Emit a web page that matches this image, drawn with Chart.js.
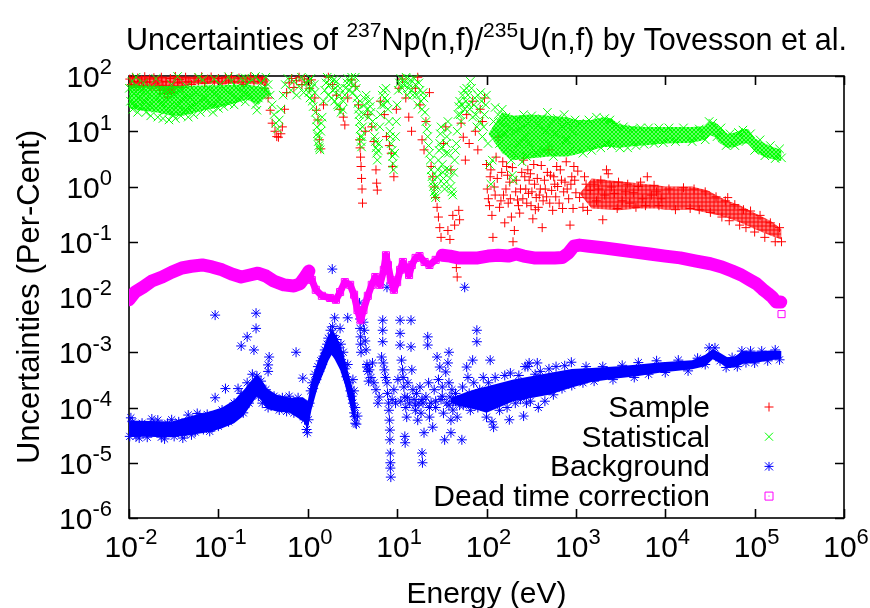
<!DOCTYPE html>
<html>
<head>
<meta charset="utf-8">
<script src="https://cdn.jsdelivr.net/npm/chart.js@4.4.1/dist/chart.umd.min.js"></script>
<style>
  html, body { margin: 0; padding: 0; background: #fff; }
  #wrap { width: 870px; height: 608px; position: relative; }
</style>
</head>
<body>
<div id="wrap"><canvas id="uncChart"></canvas></div>
<script>
// axis decades (exponents of 10) and legend labels
var xTickExps = [-2, -1, 0, 1, 2, 3, 4, 5, 6];
var yTickExps = [-6, -5, -4, -3, -2, -1, 0, 1, 2];
var legendLabels = ["Sample", "Statistical", "Background", "Dead time correction"];

// Sample uncertainty, [energy eV, per-cent] - scattered points
var sampleCloud = [
  [0.0102,88],[0.0106,70],[0.011,95],[0.0115,80],[0.012,62],[0.0125,92],[0.013,75],[0.0138,85],[0.0145,66],[0.015,97],
  [0.016,78],[0.017,88],[0.018,60],[0.019,93],[0.02,72],[0.021,84],[0.022,55],[0.023,95],[0.024,68],[0.025,48],
  [0.026,80],[0.027,42],[0.028,58],[0.029,90],[0.03,50],[0.031,65],[0.033,98],[0.035,75],[0.037,86],[0.04,62],
  [0.043,95],[0.046,78],[0.05,70],[0.055,92],[0.06,82],[0.065,97],[0.07,74],[0.076,88],[0.083,96],[0.09,80],
  [0.1,90],[0.11,72],[0.12,95],[0.13,84],[0.14,98],[0.15,78],[0.17,92],[0.19,70],[0.21,88],[0.23,97],
  [0.25,80],[0.28,93],[0.31,85],[0.33,60],[0.36,40],[0.38,24],[0.4,14],[0.43,10],[0.45,8],[0.47,7.8],
  [0.5,9],[0.52,12],[0.55,25],[0.58,50],[0.62,75],[0.66,90],[0.7,62],[0.75,82],[0.8,95],[0.86,70],[0.92,88],[0.98,78],
  [1.05,60],[1.1,85],[1.2,40],[1.25,24],[1.3,16],[1.35,7],[1.4,4.8],[1.5,30],[1.7,95],[1.9,70],
  [2.1,45],[2.3,25],[2.5,18],[2.6,13],[2.8,40],[3.1,85],[3.4,65],[3.7,30],[3.8,7],[3.85,5],
  [3.9,3.4],[3.95,2.3],[4.0,1.4],[4.05,0.9],[4.1,0.5],[4.4,10],[4.7,20],[5.2,12],[5.5,6.5],[5.8,2],
  [5.9,1.15],[6.0,0.86],[6.5,35],[7.2,20],[7.6,8],[8.2,5.5],[8.6,4],[8.9,2.3],[9.2,1.5],[9.8,25],
  [10.5,60],[11.5,88],[12.5,40],[13.5,18],[14.5,10],[16,60],[17,95],[18,30],[19,7],[20,4.6],
  [21,15],[23,50],[24,2.3],[25,1.5],[26,0.98],[27,0.63],[28,0.42],[29,0.28],[30,0.18],[31,0.12],
  [33,6],[35,12],[37,0.16],[39,0.11],[40,2],[42,0.3],[44,0.2],[46,0.034],[47,0.023],[49,0.37],
  [50,0.25],[52,14],[55,7.8],[58,3],[60,20],[64,6],[70,35],[75,10],[80,4.6],[85,25],[90,15],[95,40],
  [100,2.5],[105,0.6],[110,1.5],[115,0.3],[118,0.12],[122,0.98],[128,3.4],[135,7.8],[140,0.42],[148,1.8],
  [155,0.7],[160,0.22],[168,2.3],[175,0.5],[182,1.2],[190,0.28],[198,0.1],[205,0.16],[212,0.8],[222,0.57],
  [235,0.33],[248,1.8],[260,3],[275,0.9],[290,2],[300,1.3],[315,0.45],[330,0.26],[345,1.1],[360,0.63],
  [380,0.42],[400,0.9],[420,0.18],[445,1.3],[470,0.65],[500,4.6],[520,1.6],[550,0.37],[580,1.1],[610,2.3],
  [650,0.5],[690,1.3],[730,0.8],[780,2.8],[830,0.6],[860,0.2],[900,1.5],[950,2.3],[1000,0.77],[1050,1.9],
  [102,0.9],[108,0.45],[112,2],[125,0.7],[132,1.4],[145,0.55],[152,2.8],[165,0.9],[172,1.6],[185,0.6],
  [195,2.2],[215,1.3],[228,0.45],[240,0.9],[255,0.6],[268,1.5],[282,0.5],[295,0.75],[310,1.7],[322,0.8],
  [338,2.5],[352,0.38],[370,1.4],[390,0.7],[410,2.4],[430,0.55],[455,0.9],[480,1.8],[510,0.5],[535,0.85],
  [565,1.5],[595,0.65],[625,1],[670,2],[710,0.4],[755,1.2],[800,0.9],[880,1.1],[930,0.4],[970,1.3],
  [1100,0.63],[1200,0.42],[1300,1.1],[1350,0.37],[1450,0.85],[1600,1.1],[1700,0.55],[1800,0.9],[2000,0.25],[2100,0.7],
  [2200,2.0],[2300,1.7],[2500,0.98],[2700,0.75],[3000,1.2],[3300,0.55],[3600,0.8],[4000,0.5],[4400,0.77],[5000,1.0],
  [5600,0.6],[6300,1.5],[7000,0.7],[8000,0.8],[9000,0.6],[1250,1.5],[1900,1.3],[2900,0.4],[3800,1.1],[4700,0.42],
  [5300,1.2],[6000,0.45],[7500,1.05],[8500,0.45],
  [11000,0.9],[13000,0.38],[16000,0.95],[19000,0.4],[21000,0.9],[24000,0.38],[28000,0.8],[32000,0.34],[37000,0.65],[43000,0.28],
  [47000,0.55],[50000,0.63],[52000,0.24],[60000,0.47],[68000,0.2],[75000,0.38],[80000,0.18],[90000,0.36],[100000,0.15],[115000,0.3],
  [130000,0.12],[150000,0.22],[170000,0.1],[190000,0.18],[200000,0.1]
];
// envelopes of the densest sample runs (upper, lower)
var sampleTopHi = [[0.01,98],[0.02,98],[0.05,98],[0.1,98],[0.2,98],[0.34,98],[0.37,85]];
var sampleTopLo = [[0.01,60],[0.02,62],[0.025,50],[0.03,45],[0.035,60],[0.05,70],[0.1,72],[0.2,72],[0.3,70],[0.34,65],[0.37,85]];
var sampleHighHi = [[1100,0.75],[1500,1.4],[3000,1.25],[5000,1.15],[8000,1.05],[10000,1.0],[20000,1.0],[30000,0.85],[40000,0.65],[50000,0.55],[70000,0.45],[100000,0.33],[150000,0.24],[200000,0.17]];
var sampleHighLo = [[1100,0.75],[1500,0.4],[3000,0.37],[5000,0.4],[8000,0.4],[10000,0.38],[20000,0.38],[30000,0.33],[40000,0.3],[50000,0.27],[70000,0.22],[100000,0.17],[150000,0.13],[200000,0.11]];

// Statistical uncertainty
var statCloud = [
  [0.0101,60],[0.0104,35],[0.0108,80],[0.011,25],[0.0113,48],[0.0117,30],[0.012,68],[0.0125,22],[0.013,40],[0.0135,55],
  [0.014,28],[0.0145,75],[0.015,35],[0.0155,22],[0.016,50],[0.017,30],[0.0175,19],[0.018,62],[0.019,40],[0.02,26],
  [0.021,18],[0.022,45],[0.023,32],[0.024,17],[0.025,55],[0.026,24],[0.027,38],[0.028,16],[0.029,28],[0.03,70],
  [0.031,20],[0.032,45],[0.033,17],[0.035,30],[0.037,55],[0.038,19],[0.04,38],[0.042,24],[0.044,65],[0.046,18],
  [0.048,42],[0.05,28],[0.053,20],[0.056,50],[0.06,33],[0.063,22],[0.067,85],[0.07,40],[0.074,25],[0.078,60],
  [0.082,30],[0.087,22],[0.092,48],[0.097,35],[0.1,26],[0.105,70],[0.11,40],[0.115,28],[0.12,55],[0.13,32],
  [0.14,80],[0.145,45],[0.15,30],[0.16,62],[0.17,38],[0.18,90],[0.19,50],[0.2,34],[0.21,72],[0.22,45],
  [0.24,85],[0.25,55],[0.26,30],[0.27,24],[0.28,40],[0.3,75],[0.32,60],[0.34,95],[0.36,70],[0.38,45],
  [0.4,30],[0.42,20],[0.44,14],[0.46,11],[0.48,16],[0.5,25],[0.53,45],[0.56,70],[0.6,90],[0.65,55],
  [0.7,80],[0.75,45],[0.8,65],[0.85,95],[0.9,50],[0.95,75],[1.0,60],
  [0.012,95],[0.02,90],[0.035,98],[0.06,95],[0.09,88],[0.13,97],[0.2,92],[0.26,98],
  [1.03,50],[1.08,90],[1.12,35],[1.18,70],[1.22,22],[1.27,12],[1.3,8],[1.33,5.5],[1.37,4.6],[1.4,10],
  [1.45,18],[1.55,55],[1.65,95],[1.75,70],[1.85,40],[1.95,85],[2.05,60],[2.15,30],[2.25,45],[2.35,22],
  [2.5,35],[2.65,60],[2.8,90],[3.0,75],[3.2,50],[3.4,95],[3.55,40],[3.7,25],[3.8,15],[3.9,8],
  [4.0,5.2],[4.1,12],[4.3,30],[4.5,45],[4.8,18],[5.0,28],[5.3,15],[5.6,8],[5.8,5],[6.0,3],
  [6.2,6],[6.5,20],[6.8,45],[7.1,30],[7.5,60],[7.9,25],[8.3,10],[8.6,6],[8.9,3.5],[9.1,2],
  [9.4,4],[9.8,15],[10.3,55],[11,90],[11.8,70],[12.6,95],[13.4,60],[14.2,85],[15,45],[16,70],
  [17,30],[18,55],[19,25],[20,40],[21,15],[22,8],[23,4],[24,2],[25,1.2],[26,0.8],
  [27,0.63],[28,1.5],[29,3],[30,6],[31,12],[32,2.5],[33,1.4],[34,0.9],[35,4],[36,8],
  [37,15],[38,2],[40,1],[42,0.7],[44,3],[46,6],[48,20],[50,35],[52,15],[54,45],
  [57,25],[60,60],[63,30],[66,80],[70,18],[74,40],[78,12],[82,25],[86,50],[90,8],[95,20],
  [1.02,80],[1.06,40],[1.1,60],[1.15,28],[1.2,50],[1.25,16],[1.28,9],[1.31,6.5],[1.35,5],[1.42,14],
  [1.5,35],[1.6,75],[1.7,45],[1.8,90],[1.9,55],[2.0,35],[2.1,80],[2.2,28],[2.3,60],[2.45,25],
  [2.6,45],[2.75,75],[2.9,55],[3.1,95],[3.3,70],[3.5,60],[3.65,32],[3.75,20],[3.85,11],[3.95,6.5],
  [4.05,8],[4.2,20],[4.4,38],[4.6,25],[4.9,35],[5.1,22],[5.4,12],[5.7,6.5],[5.9,4],[6.1,4.5],
  [6.4,12],[6.7,30],[7.0,55],[7.3,40],[7.7,35],[8.1,15],[8.4,8],[8.8,4.5],[9.0,2.6],[9.6,8],
  [10,30],[10.6,75],[11.4,60],[12.2,80],[13,45],[13.8,70],[14.6,55],[15.5,90],[16.5,45],[17.5,75],
  [18.5,35],[19.5,50],[20.5,22],[21.5,11],[22.5,5.5],[23.5,3],[24.5,1.5],[25.5,1],[26.5,0.7],[27.5,1],
  [28.5,2],[29.5,4.5],[30.5,9],[31.5,5],[32.5,1.8],[33.5,1.1],[34.5,2],[35.5,6],[36.5,11],[37.5,4],
  [39,1.4],[41,0.8],[43,1.8],[45,4.5],[47,10],[49,28],[51,20],[53,30],[56,55],[59,35],
  [62,45],[65,25],[68,60],[72,30],[76,20],[80,45],[84,15],[88,35],[93,12],[98,30],
  [100,45],[104,6],[108,2.5],[112,1.1],[116,3],[120,15],[125,27],[130,10],[135,20],[140,6],
  [145,14],[150,25],[158,9],[165,18],[172,5],[180,12],[188,3],[195,1.6],[200,1.3],[205,4],
  [210,10],[220,16],[230,6],[240,11],[250,2.8],[260,20],[270,8],[280,3.5],[290,14],[300,6],
  [320,19],[340,9],[360,4],[380,13],[400,7],[420,17],[440,4.5],[460,10],[480,22],[500,6],
  [530,14],[560,3.5],[590,9],[620,17],[660,5],[700,12],[740,20],[780,7],[820,14],[870,4.5],[920,10],[980,16],
  [1100,14],[1200,4],[1400,16],[1500,4.5],[1700,18],[1900,5],[2100,17],[2200,6],[2400,16],[2500,5.5],
  [2800,13],[3100,5],[3400,12],[3800,5],[4300,11],[4700,5.5],[5300,11.5],[5800,5.8],[6500,11.5],[7500,6],
  [8500,11.5],[9500,6.2],[11000,11.5],[13000,6.5],[16000,11.5],[20000,6.5],[24000,11],[28000,7],[31000,15],[34000,14],
  [38000,8],[42000,11.5],[48000,5.5],[53000,9],[60000,5.5],[66000,9.5],[74000,10.5],[80000,6.5],[90000,9],[100000,4.5],
  [115000,7],[130000,3.6],[150000,5.5],[170000,3.2],[190000,4.8],[200000,3.3]
];
var statLowHi = [[0.01,68],[0.03,66],[0.1,68],[0.2,70],[0.36,62],[0.39,48]];
var statLowLo = [[0.01,26],[0.013,24],[0.02,22],[0.03,19],[0.04,19],[0.05,21],[0.07,24],[0.1,27],[0.13,30],[0.17,34],[0.21,37],[0.25,33],[0.28,30],[0.32,38],[0.36,44],[0.39,48]];
var statHighHi = [[105,9],[150,22],[200,19],[300,20],[500,19],[800,18],[1000,16],[1500,16],[2000,18],[2500,17],[3000,13.5],[4000,12.5],[6000,12],[10000,12],[20000,12],[28000,12.5],[32000,15],[36000,14.5],[40000,12],[50000,9],[60000,9.5],[75000,11],[85000,11],[100000,7.5],[130000,6],[160000,5.2],[200000,4.6]];
var statHighLo = [[105,9],[150,4],[200,3],[300,3.2],[500,3.5],[800,3.5],[1000,3.8],[1500,4.5],[2000,5.2],[2500,5.2],[3000,5],[4000,5.3],[6000,5.6],[10000,6],[20000,6.2],[28000,7],[32000,8.5],[36000,7.8],[40000,6.2],[50000,5],[60000,5.2],[75000,6],[85000,6],[100000,4.3],[130000,3.4],[160000,3.1],[200000,2.9]];

// Background uncertainty
var bgCloud = [
  [0.0102,3e-5],[0.011,5.5e-5],[0.012,3e-5],[0.014,5.2e-5],[0.016,2.9e-5],[0.019,5e-5],[0.021,5.9e-5],[0.023,2.9e-5],[0.027,5.2e-5],[0.032,3e-5],
  [0.036,5.5e-5],[0.042,3.3e-5],[0.046,7.3e-5],[0.055,3.6e-5],[0.062,7e-5],[0.068,4e-5],[0.075,7.5e-5],[0.085,4.3e-5],[0.092,1.5e-4],[0.1,4.6e-5],
  [0.12,2.2e-4],[0.13,5.5e-5],[0.15,1.2e-4],[0.166,2.2e-4],[0.18,1.8e-4],[0.19,8e-5],[0.21,2.8e-4],[0.22,1.2e-4],[0.24,4e-4],[0.25,1.8e-4],
  [0.27,3.7e-4],[0.28,1.6e-4],[0.3,3e-4],[0.31,1.2e-4],[0.34,2.1e-4],[0.36,1e-4],[0.42,1.6e-4],[0.48,9e-5],[0.52,1.5e-4],[0.58,8.5e-5],
  [0.62,1.6e-4],[0.7,8e-5],[0.78,1.5e-4],[0.82,8e-5],[0.88,3.4e-4],[0.92,6e-5],[0.97,4e-5],[0.99,3.5e-5],
  [0.0105,6.5e-5],[0.013,2.8e-5],[0.018,6.2e-5],[0.025,2.7e-5],[0.03,6e-5],[0.04,2.8e-5],[0.05,3.2e-5],[0.058,7.8e-5],[0.08,3.7e-5],[0.11,9e-5],
  [0.092,4.7e-3],[0.264,5.1e-3],[0.264,2.7e-3],[0.21,1.9e-3],[0.18,1.3e-3],[0.25,1.1e-3],[0.37,8.2e-4],[0.36,5.9e-4],[0.36,4.5e-4],[0.74,1e-3],
  [1.02,6e-5],[1.05,1.2e-4],[1.08,2e-4],[1.12,2.8e-4],[1.15,2.2e-4],[1.2,4e-4],[1.25,3.2e-4],[1.3,5.5e-4],[1.35,4.5e-4],[1.4,7e-4],
  [1.45,6e-4],[1.5,8.5e-4],[1.55,1.1e-3],[1.6,1e-3],[1.65,1.4e-3],[1.7,1.8e-3],[1.75,1.2e-3],[1.8,2.5e-3],[1.85,1.5e-3],[1.9,2.9e-3],
  [1.95,2e-3],[2.0,1.3e-3],[2.05,1e-3],[2.1,1.7e-3],[2.2,1.2e-3],[2.3,8.5e-4],[2.35,1.4e-3],[2.45,6.5e-4],[2.5,1e-3],[2.6,5e-4],
  [2.7,3.6e-4],[2.8,6e-4],[2.9,2.8e-4],[3.0,2e-4],[3.1,1.6e-4],[3.2,1.2e-4],[3.3,8e-5],[3.35,6.8e-5],[3.4,1e-4],[3.5,5e-5],
  [2.0,4.2e-3],[2.8,4.2e-3],[2.3,2.7e-3],[1.88,0.032],[7.7,0.015],[57,0.015],
  [3.8,7.8e-3],[3.8,5.5e-3],[3.85,4e-3],[3.85,2.7e-3],[3.9,1.9e-3],[3.9,1.4e-3],[3.95,1e-3],
  [4.2,3.5e-3],[4.3,2.5e-3],[4.4,1.6e-3],[4.5,1.1e-3],[4.6,6e-4],[4.7,4.5e-4],[4.8,3e-4],
  [3.2,3.2e-4],[3.3,2e-4],[3.4,5.2e-5],[3.6,7e-5],
  [4.6,5.4e-4],[4.9,4.8e-4],[5.1,3.5e-4],[5.3,6.4e-4],[5.5,2.8e-4],[5.8,2.1e-4],[6.1,1.2e-4],[6.3,1.55e-4],
  [6.9,3.8e-3],[6.9,2.5e-3],[6.9,1.55e-3],[6.7,8.2e-4],[7.0,6.4e-4],[7.2,4.8e-4],[7.4,3.5e-4],
  [7.7,2.8e-4],[7.8,1.8e-4],[8.0,1.2e-4],[8.1,8.9e-5],[8.2,5.9e-5],[8.3,3.9e-5],[8.3,2.6e-5],[8.4,1.5e-5],[8.4,1e-5],[8.4,8e-6],[8.5,5.5e-6],
  [8.8,1.4e-4],[9.2,2.1e-4],[9.6,1.2e-4],[10.2,3.2e-4],
  [10.8,3.8e-3],[10.8,2.2e-3],[10.8,1.35e-3],[11.2,7.2e-4],[11.5,4.8e-4],[11.7,3.5e-4],[11.9,2.35e-4],[12.2,1.55e-4],[12.5,1e-4],[12.8,6.7e-5],[12.2,3e-5],[12.3,2.3e-5],
  [13.2,2.8e-4],[13.7,1.2e-4],[14.3,3.8e-3],[14.3,1.25e-3],[14.6,4.8e-4],[15,2.1e-4],[15.5,1.4e-4],[16,8.9e-5],[16.5,1.8e-4],[17,5.9e-5],[17.5,1.2e-4],[18,2.35e-4],[18.5,7.9e-5],
  [19,1.5e-5],[19.2,1e-5],[19.5,1.2e-4],[20,3.5e-5],[21,1.55e-4],[22,1.9e-3],[22,1.35e-3],[22.5,2.8e-4],[23,6.7e-5],[24,1.2e-4],[25,4.4e-5],
  [26,2.1e-4],[27,1e-4],[28,8.2e-4],[29,3.2e-4],[30,5.4e-4],[31,1.4e-4],[32,2.35e-4],[33,7.9e-5],[34,2.6e-5],[35,4.4e-4],
  [36,1.2e-4],[37,6.4e-4],[38,1e-3],[38,2.8e-4],[39,1.55e-4],[40,5.9e-5],[40,3.5e-5],[41,2.1e-4],[42,9e-5],[43,1.3e-4],
  [45,1.8e-4],[47,6.7e-5],[50,1.1e-4],[53,2.6e-5],[54,2.35e-4],[56,1.2e-4],[60,5.4e-4],[62,3.5e-4],[64,1.8e-4],[66,8.9e-5],
  [68,1.4e-4],[70,7.2e-4],[72,2.8e-4],[75,1.55e-4],[78,2.5e-3],[78,1.55e-3],[80,1e-4],[84,2.1e-4],[88,1.2e-4],[92,3.5e-4],[96,1.55e-4],
  [11,1.3e-4],[13,1.5e-4],[16,1.1e-4],[19,1.4e-4],[23,1e-4],[27,1.3e-4],[32,1.6e-4],[38,1.1e-4],[45,1.3e-4],[55,1.1e-4],[65,1.3e-4],[78,1.2e-4],
  [100,6.7e-5],[105,2.8e-4],[110,7.2e-4],[115,5.5e-5],[120,4.4e-5],[125,3.5e-4],[140,8.9e-5],[160,3.8e-4],[170,1e-4],[180,6e-5],
  [185,4.2e-4],[210,1.2e-4],[230,3.8e-4],[240,1.4e-4],[260,7e-5],[270,5.5e-4],[280,1.2e-4],[290,5.5e-4],[300,6.4e-4],[310,1.3e-4],
  [350,4e-4],[370,6.4e-4],[380,1e-4],[400,4.5e-4],[450,1.3e-4],[500,5e-4],[560,1.7e-4],[600,5.5e-4],[700,2.2e-4],[750,5.7e-4],
  [890,6.6e-4],[900,2.5e-4],[1200,2.8e-4],[1300,5.5e-4],[1600,3e-4],[2000,5.5e-4],[2600,3.2e-4],[3300,5.8e-4],[4500,3.5e-4],[5000,6.5e-4],
  [6500,4e-4],[8000,7e-4],[10000,4.3e-4],[14000,7.2e-4],[18000,4.6e-4],[23000,7.8e-4],[28000,6e-4],[31000,1.2e-3],[36000,1.2e-3],[41000,7e-4],
  [48000,5.3e-4],[56000,8e-4],[64000,5.5e-4],[72000,1.05e-3],[80000,6.5e-4],[90000,1.05e-3],[100000,6.4e-4],[120000,1.05e-3],[140000,7e-4],[170000,1.1e-3],[190000,7.3e-4]
];
var bgLowHi = [[0.01,5.8e-5],[0.03,5.6e-5],[0.05,7e-5],[0.08,8.5e-5],[0.11,1e-4],[0.15,1.35e-4],[0.19,2e-4],[0.23,3e-4],[0.27,4e-4],[0.3,3.3e-4],[0.35,2.2e-4],[0.45,1.7e-4],[0.63,1.5e-4],[0.9,1.5e-4],[1.0,1.3e-4],
  [1.1,3e-4],[1.3,7e-4],[1.5,1.2e-3],[1.7,2e-3],[1.85,2.5e-3],[2.0,2.2e-3],[2.3,1.4e-3],[2.6,7.5e-4],[2.9,3.8e-4],[3.2,2.1e-4],[3.4,1.5e-4]];
var bgLowLo = [[0.01,3e-5],[0.03,2.9e-5],[0.05,3.2e-5],[0.08,3.6e-5],[0.11,4.2e-5],[0.15,5.2e-5],[0.19,7e-5],[0.23,1.1e-4],[0.27,1.6e-4],[0.3,1.35e-4],[0.35,9.5e-5],[0.45,8.5e-5],[0.63,8e-5],[0.9,5.5e-5],[1.0,4e-5],
  [1.1,9e-5],[1.3,2.4e-4],[1.5,4.2e-4],[1.7,7e-4],[1.85,9e-4],[2.0,7.5e-4],[2.3,4.8e-4],[2.6,2.6e-4],[2.9,1.3e-4],[3.2,6.5e-5],[3.4,5.5e-5]];
var bgHighHi = [[40,1.5e-4],[60,1.9e-4],[80,2.2e-4],[100,2.4e-4],[200,3.2e-4],[500,4.2e-4],[900,5e-4],[1500,5.2e-4],[3000,5.6e-4],[5000,6e-4],[9000,6.6e-4],[20000,7.2e-4],[28000,9e-4],[34000,1.15e-3],[40000,1e-3],[50000,8e-4],[60000,8.5e-4],[75000,1.05e-3],[100000,1.02e-3],[150000,1.08e-3],[200000,1.05e-3]];
var bgHighLo = [[40,1.2e-4],[60,1e-4],[80,9e-5],[100,8e-5],[200,1.3e-4],[500,1.7e-4],[900,2.3e-4],[1500,2.9e-4],[3000,3.4e-4],[5000,3.7e-4],[9000,4.3e-4],[20000,4.9e-4],[28000,5.6e-4],[34000,7.5e-4],[40000,6.5e-4],[50000,5.2e-4],[60000,5.3e-4],[75000,6.2e-4],[100000,6.4e-4],[150000,7.2e-4],[200000,7.6e-4]];

// Dead time correction uncertainty
var deadTime = [
  [0.01,0.0089],[0.0117,0.0123],[0.0144,0.0151],[0.018,0.0195],[0.0235,0.023],[0.03,0.028],[0.039,0.0335],[0.05,0.036],[0.066,0.038],[0.085,0.035],
  [0.11,0.031],[0.141,0.026],[0.18,0.023],[0.225,0.025],[0.276,0.027],[0.34,0.024],[0.415,0.0195],[0.54,0.0166],[0.7,0.0158],[0.82,0.0174],
  [0.93,0.023],[1.03,0.0295],[1.11,0.0204],[1.23,0.0135],[1.44,0.0105],[1.78,0.0096],[2.07,0.0089],[2.3,0.0123],[2.6,0.0186],[2.98,0.0166],
  [3.3,0.011],[3.6,0.0058],[3.9,0.0038],[4.2,0.0058],[4.7,0.0105],[5.2,0.0166],[5.7,0.023],[6.4,0.0166],[7.1,0.031],[7.5,0.057],
  [7.9,0.038],[8.5,0.0204],[9.2,0.0135],[10,0.0186],[10.8,0.031],[11.6,0.043],[12.5,0.034],[13.6,0.025],[14.6,0.038],[16.1,0.051],
  [17.8,0.055],[20.3,0.043],[23,0.038],[27,0.047],[32,0.057],[39,0.055],[48,0.051],[62,0.051],[80,0.051],[104,0.055],
  [135,0.057],[175,0.055],[215,0.06],[260,0.055],[340,0.051],[450,0.051],[580,0.051],[710,0.052],[830,0.063],[950,0.083],
  [1100,0.087],[1400,0.083],[2100,0.077],[3100,0.071],[4600,0.065],[6700,0.06],[10000,0.055],[14700,0.051],[21500,0.045],[32000,0.04],
  [43000,0.035],[56000,0.0295],[71000,0.025],[88000,0.0204],[105000,0.0174],[123000,0.0138],[140000,0.0117],[157000,0.01],[175000,0.0081],[196000,0.0081],
  [200000,0.0049]
];

var RED = "#ff0000", GREEN = "#00ff00", BLUE = "#0000ff", MAGENTA = "#ff00ff";
var FONT = '"Liberation Sans", Arial, Helvetica, sans-serif';

function xy(arr) {
  return arr.map(function (p) { return { x: p[0], y: p[1] }; });
}

// tiled marker texture that stands for a run of overlapping points
function markPattern(color, tint, kind, size) {
  var c = document.createElement("canvas");
  c.width = c.height = size;
  var g = c.getContext("2d");
  g.fillStyle = tint;
  g.fillRect(0, 0, size, size);
  g.strokeStyle = color;
  g.lineWidth = 1;
  g.beginPath();
  if (kind !== "plus") {
    g.moveTo(0, 0); g.lineTo(size, size);
    g.moveTo(0, size); g.lineTo(size, 0);
  }
  if (kind !== "cross") {
    g.moveTo(size / 2, 0); g.lineTo(size / 2, size);
    g.moveTo(0, size / 2); g.lineTo(size, size / 2);
  }
  g.stroke();
  return g.createPattern(c, "repeat");
}

// two datasets: upper edge filled down to lower edge
function envelope(hi, lo, fillStyle, order) {
  var edge = {
    label: "",
    showLine: true,
    borderWidth: 1,
    borderColor: "rgba(0,0,0,0)",
    pointRadius: 0,
    order: order,
  };
  return [
    Object.assign({}, edge, { data: xy(hi), fill: "+1", backgroundColor: fillStyle }),
    Object.assign({}, edge, { data: xy(lo), fill: false }),
  ];
}

function cloud(arr, color, style, radius, order) {
  return {
    label: "",
    data: xy(arr),
    showLine: false,
    pointStyle: style,
    pointRadius: radius,
    pointBorderWidth: 1,
    pointBorderColor: color,
    pointBackgroundColor: "rgba(0,0,0,0)",
    order: order,
    clip: 6,
  };
}

// text with superscripts: parts = [string | {sup: string}]
function richText(ctx, parts, x, y, align, size, supScale) {
  var sup = Math.round(size * (supScale || 0.7));
  var widths = parts.map(function (p) {
    ctx.font = (typeof p === "string" ? size : sup) + "px " + FONT;
    return ctx.measureText(typeof p === "string" ? p : p.sup).width;
  });
  var total = widths.reduce(function (a, b) { return a + b; }, 0);
  var cx = align === "center" ? x - total / 2 : align === "right" ? x - total : x;
  ctx.textAlign = "left";
  ctx.textBaseline = "alphabetic";
  parts.forEach(function (p, i) {
    if (typeof p === "string") {
      ctx.font = size + "px " + FONT;
      ctx.fillText(p, cx, y);
    } else {
      ctx.font = sup + "px " + FONT;
      ctx.fillText(p.sup, cx, y - size * 0.42);
    }
    cx += widths[i];
  });
}

function marker(ctx, kind, x, y, color) {
  ctx.save();
  ctx.strokeStyle = color;
  ctx.lineWidth = 1;
  ctx.beginPath();
  if (kind === "plus" || kind === "star") {
    ctx.moveTo(x - 4.5, y); ctx.lineTo(x + 4.5, y);
    ctx.moveTo(x, y - 4.5); ctx.lineTo(x, y + 4.5);
  }
  if (kind === "cross" || kind === "star") {
    ctx.moveTo(x - 4, y - 4); ctx.lineTo(x + 4, y + 4);
    ctx.moveTo(x - 4, y + 4); ctx.lineTo(x + 4, y - 4);
  }
  if (kind === "square") {
    ctx.rect(x - 4, y - 4, 8, 8);
    ctx.moveTo(x - 0.5, y); ctx.lineTo(x + 0.5, y);
  }
  ctx.stroke();
  ctx.restore();
}

var frame = {
  id: "gnuplotFrame",
  beforeDatasetsDraw: function (chart) {
    var ctx = chart.ctx, a = chart.chartArea;
    var xs = chart.scales.x, ys = chart.scales.y;
    ctx.save();
    ctx.strokeStyle = "#000";
    ctx.lineWidth = 1.6;
    ctx.strokeRect(a.left, a.top, a.right - a.left, a.bottom - a.top);
    ctx.beginPath();
    xTickExps.forEach(function (e) {
      var px = Math.round(xs.getPixelForValue(Math.pow(10, e))) + 0.5;
      ctx.moveTo(px, a.bottom); ctx.lineTo(px, a.bottom - 9);
      ctx.moveTo(px, a.top); ctx.lineTo(px, a.top + 9);
    });
    yTickExps.forEach(function (e) {
      var py = Math.round(ys.getPixelForValue(Math.pow(10, e))) + 0.5;
      ctx.moveTo(a.left, py); ctx.lineTo(a.left + 9, py);
      ctx.moveTo(a.right, py); ctx.lineTo(a.right - 9, py);
    });
    ctx.stroke();
    ctx.restore();
  },
  afterDraw: function (chart) {
    var ctx = chart.ctx, a = chart.chartArea;
    var xs = chart.scales.x, ys = chart.scales.y;
    ctx.save();
    ctx.fillStyle = "#000";
    xTickExps.forEach(function (e) {
      richText(ctx, ["10", { sup: String(e) }], xs.getPixelForValue(Math.pow(10, e)) + 2, 557, "center", 30, 0.74);
    });
    yTickExps.forEach(function (e) {
      richText(ctx, ["10", { sup: String(e) }], 112, ys.getPixelForValue(Math.pow(10, e)) + 11, "right", 30, 0.74);
    });
    richText(ctx, ["Uncertainties of ", { sup: "237" }, "Np(n,f)/", { sup: "235" }, "U(n,f) by Tovesson et al."],
      (a.left + a.right) / 2, 50, "center", 30.5);
    ctx.font = "30px " + FONT;
    ctx.textAlign = "center";
    ctx.fillText("Energy (eV)", (a.left + a.right) / 2, 603);
    ctx.save();
    ctx.translate(39, (a.top + a.bottom) / 2);
    ctx.rotate(-Math.PI / 2);
    ctx.font = "31px " + FONT;
    ctx.fillText("Uncertainties (Per-Cent)", 0, 0);
    ctx.restore();
    // legend
    var kinds = ["plus", "cross", "star", "square"];
    var colors = [RED, GREEN, BLUE, MAGENTA];
    ctx.textAlign = "right";
    legendLabels.forEach(function (lbl, i) {
      var yy = 407 + i * 29.7;
      ctx.fillStyle = "#000";
      ctx.font = "30px " + FONT;
      ctx.fillText(lbl, 710, yy + 10);
      marker(ctx, kinds[i], 769, yy, colors[i]);
    });
    ctx.restore();
  },
};

var redMesh = markPattern(RED, "rgba(255,0,0,0.55)", "plus", 4);
var greenMesh = markPattern(GREEN, "rgba(0,255,0,0.6)", "cross", 4);
var blueMesh = markPattern(BLUE, "rgba(0,0,255,0.7)", "star", 3);

var datasets = []
  .concat(envelope(sampleTopHi, sampleTopLo, redMesh, 12))
  .concat(envelope(sampleHighHi, sampleHighLo, redMesh, 12))
  .concat([cloud(sampleCloud, RED, "cross", 4.5, 11)])
  .concat(envelope(statLowHi, statLowLo, greenMesh, 10))
  .concat(envelope(statHighHi, statHighLo, greenMesh, 10))
  .concat([cloud(statCloud, GREEN, "crossRot", 6, 9)])
  .concat(envelope(bgLowHi, bgLowLo, blueMesh, 8))
  .concat(envelope(bgHighHi, bgHighLo, blueMesh, 8))
  .concat([cloud(bgCloud, BLUE, "star", 5, 7)])
  .concat([{
    label: "",
    data: xy(deadTime),
    showLine: true,
    borderColor: MAGENTA,
    borderWidth: 13,
    borderJoinStyle: "round",
    borderCapStyle: "round",
    segment: {
      borderWidth: function (c) {
        var e = deadTime[c.p0DataIndex][0];
        return e >= 1 && e < 30 ? 7 : 13;
      },
      borderColor: function (c) {
        return c.p1DataIndex === deadTime.length - 1 ? "rgba(0,0,0,0)" : undefined;
      },
    },
    pointStyle: "rect",
    pointRadius: 5,
    pointBorderWidth: 1,
    pointBorderColor: MAGENTA,
    pointBackgroundColor: "rgba(0,0,0,0)",
    order: 1,
  }]);

var ctx = document.getElementById("uncChart").getContext("2d");
var uncChart = new Chart(ctx, {
  type: "scatter",
  data: { datasets: datasets },
  options: {
    responsive: true,
    maintainAspectRatio: false,
    animation: false,
    layout: { padding: { left: 129, right: 26, top: 76, bottom: 90 } },
    plugins: { legend: { display: false }, tooltip: { enabled: false } },
    scales: {
      x: { type: "logarithmic", min: 0.01, max: 1e6, display: false },
      y: { type: "logarithmic", min: 1e-6, max: 100, display: false },
    },
  },
  plugins: [frame],
});
</script>
</body>
</html>
